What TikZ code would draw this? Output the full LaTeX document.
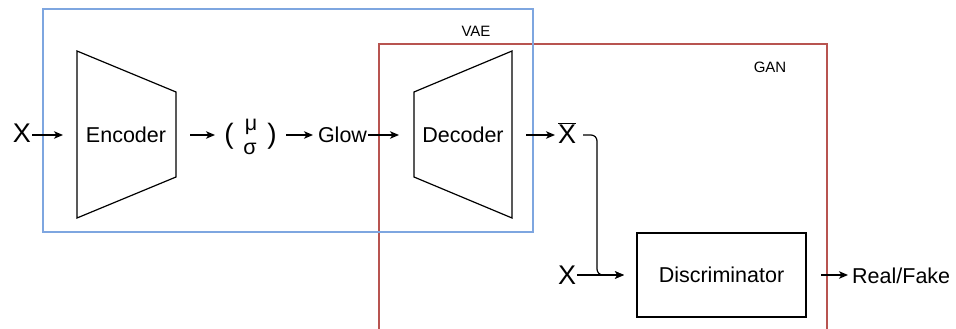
\documentclass[tikz,border=0pt]{standalone}
\usepackage{fontspec}
\setmainfont{Liberation Sans}
\usetikzlibrary{arrows.meta}
\definecolor{vaeblue}{HTML}{7EA6E0}
\definecolor{ganred}{HTML}{B85450}
\begin{document}
\begin{tikzpicture}[x=1pt,y=-1pt,
  lbl/.style={inner sep=1pt,font=\fontsize{21.5}{24}\selectfont},
  small/.style={inner sep=1pt,font=\fontsize{15}{18}\selectfont},
  big/.style={inner sep=1pt,font=\fontsize{27}{30}\selectfont},
  paren/.style={inner sep=0pt,font=\fontsize{28}{30}\selectfont},
  flow/.style={line width=1.2pt,-{Stealth[length=9pt,width=7.5pt,inset=2.5pt]}},
  block/.style={draw,line width=1.2pt},
  frame/.style={line width=1.6pt}]
\useasboundingbox (0,0) rectangle (956,329);
% frames
\draw[frame,ganred] (379,329) -- (379,44) -- (827,44) -- (827,329);
\draw[frame,vaeblue] (43,9) rectangle (533,232);
\node[small] (vae) at (476,31) {VAE};
\node[small] (gan) at (770,67) {GAN};
% encoder / decoder
\draw[block] (77,51) -- (176,92) -- (176,177) -- (77,218) -- cycle;
\node[lbl] (enc) at (126,135) {Encoder};
\draw[block] (414,92) -- (512,51) -- (512,218) -- (414,177) -- cycle;
\node[lbl] (dec) at (463,135) {Decoder};
% discriminator
\node[block,lbl,minimum width=169pt,minimum height=84pt] (disc) at (721.5,275) {Discriminator};
% labels
\node[big,anchor=base] (x1) at (22,142) {X};
\node[paren] (lp) at (229,136) {(};
\node[lbl] (mu) at (251,127) {μ};
\node[lbl] (sig) at (250,149) {σ};
\node[paren] (rp) at (272,136) {)};
\node[lbl] (glow) at (342.5,135) {Glow};
\node[big,anchor=base] (xbar) at (567,143) {$\overline{\hbox{X}}$};
\node[big,anchor=base] (x2) at (567,284) {X};
\node[lbl,anchor=west] (rf) at (851,276) {Real/Fake};
% connector points
\coordinate (encin) at (63,135);
\coordinate (encout) at (190,135);
\coordinate (muin) at (215,135);
\coordinate (muout) at (286,135);
\coordinate (glowin) at (313,135);
\coordinate (decin) at (399,135);
\coordinate (decout) at (526,135);
\coordinate (xbarin) at (555,135);
\coordinate (xbarout) at (583,135);
\coordinate (bend) at (597,275);
\coordinate (discin) at (624,275);
\coordinate (discout) at (821,275);
\coordinate (rfin) at (848,275);
% connectors
\draw[flow] (x1.east |- encin) -- (encin);
\draw[flow] (encout) -- (muin);
\draw[flow] (muout) -- (glowin);
\draw[flow] (glow.east |- decin) -- (decin);
\draw[flow] (decout) -- (xbarin);
\draw[flow,rounded corners=6pt] (xbarout) -| (bend) -- (discin);
\draw[flow] (x2.east |- discin) -- (discin);
\draw[flow] (discout) -- (rfin);
\end{tikzpicture}
\end{document}
